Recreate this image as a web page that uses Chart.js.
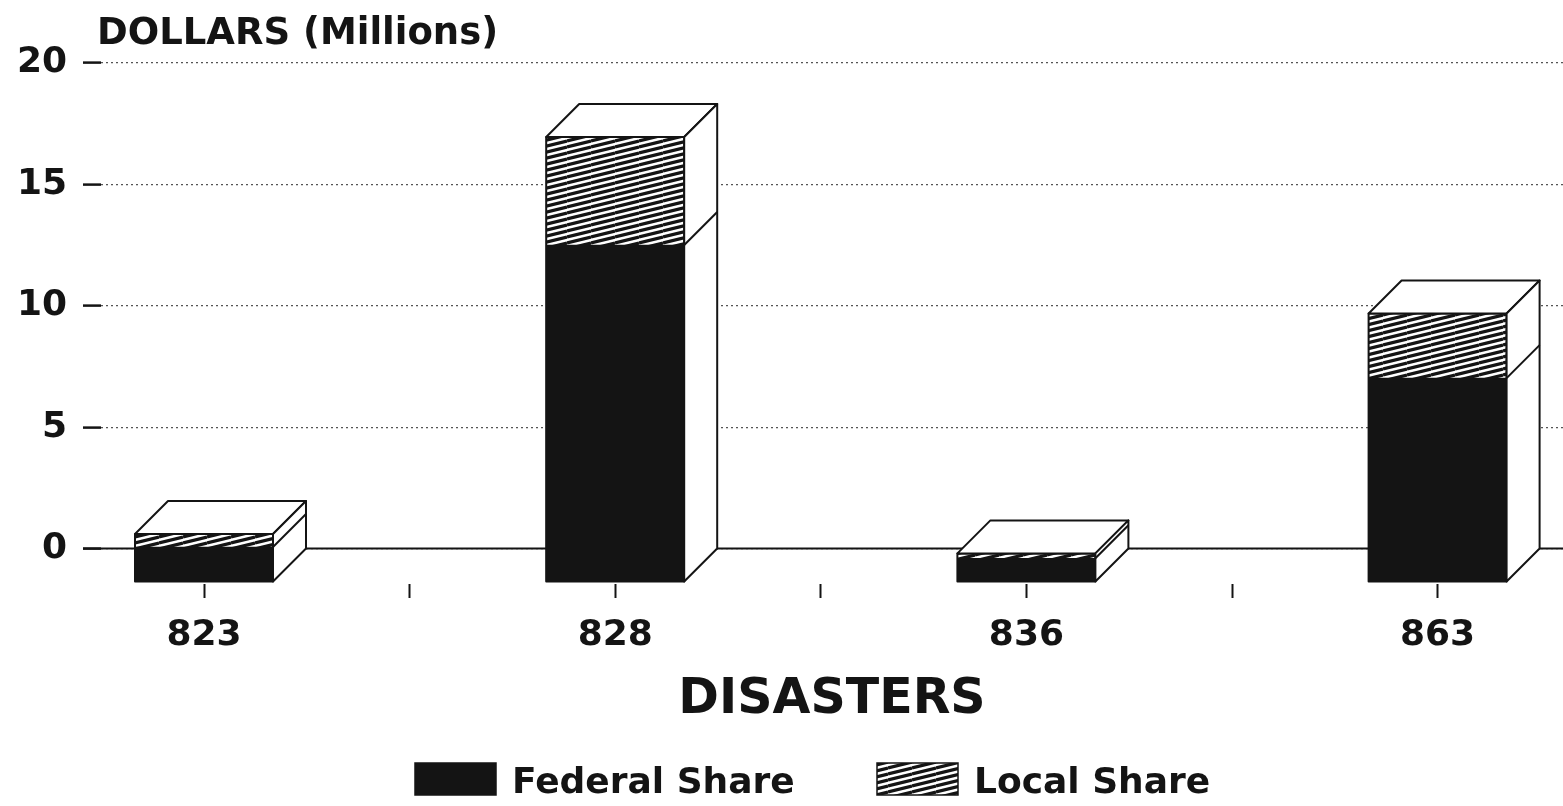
<!DOCTYPE html>
<html>
<head>
<meta charset="utf-8">
<title>Disasters - Federal and Local Share</title>
<script src="https://cdn.jsdelivr.net/npm/chart.js@4.4.1/dist/chart.umd.min.js"></script>
<style>
  html, body { margin: 0; padding: 0; background: #fff; overflow: hidden; }
</style>
</head>
<body>
<canvas id="chart" width="1563" height="806"></canvas>
<script>
// data (millions of dollars)
const categories = ['823', '828', '836', '863'];
const federalShare = [1.42, 13.86, 0.96, 8.38];
const localShare = [0.54, 4.45, 0.2, 2.66];
const yTicks = [0, 5, 10, 15, 20];
const seriesLabels = ['Federal Share', 'Local Share'];
const yTitle = 'DOLLARS (Millions)';
const xTitle = 'DISASTERS';

const FONT = "'DejaVu Sans', sans-serif";
const INK = '#141414';
const DX = 33, DY = 33;      // 3d depth of the boxes
const STEP = 411.2;          // px per category

// diagonal hatch used for the local share
function makeHatch() {
    const c = document.createElement('canvas');
    c.width = 24; c.height = 6;
    const g = c.getContext('2d');
    g.fillStyle = '#fff';
    g.fillRect(0, 0, 24, 6);
    g.strokeStyle = INK;
    g.lineWidth = 3.2;
    [-6, 0, 6].forEach(off => {
        g.beginPath();
        g.moveTo(0, 6 + off);
        g.lineTo(24, off);
        g.stroke();
    });
    return g.createPattern(c, 'repeat');
}
const hatch = makeHatch();

function poly(ctx, pts) {
    ctx.beginPath();
    ctx.moveTo(pts[0][0], pts[0][1]);
    pts.slice(1).forEach(p => ctx.lineTo(p[0], p[1]));
    ctx.closePath();
    ctx.fillStyle = '#fff';
    ctx.fill();
    ctx.stroke();
}

// draws the floor line, shifts the bar fronts and adds top/side faces
const box3d = {
    id: 'box3d',
    beforeDatasetsDraw(chart) {
        const { ctx, chartArea, scales } = chart;
        const y0 = scales.y.getPixelForValue(0);
        ctx.save();
        ctx.strokeStyle = INK;
        ctx.lineWidth = 2;
        ctx.beginPath();
        ctx.moveTo(chartArea.left - 18, y0);
        ctx.lineTo(chartArea.right, y0);
        ctx.stroke();
        ctx.translate(-DX, DY);
    },
    afterDatasetsDraw(chart) {
        const { ctx } = chart;
        ctx.restore();
        const fed = chart.getDatasetMeta(0).data;
        const loc = chart.getDatasetMeta(1).data;
        const y0 = chart.scales.y.getPixelForValue(0);
        ctx.save();
        ctx.strokeStyle = INK;
        ctx.lineWidth = 2;
        ctx.lineJoin = 'round';
        fed.forEach((f, i) => {
            const w = f.width;
            const xl = f.x - w / 2, xr = f.x + w / 2;
            const top = loc[i].y, mid = f.y;
            ctx.strokeRect(xl - DX, top + DY, w, y0 - top);
            poly(ctx, [[xl - DX, top + DY], [xr - DX, top + DY], [xr, top], [xl, top]]);
            poly(ctx, [[xr - DX, top + DY], [xr, top], [xr, y0], [xr - DX, y0 + DY]]);
            ctx.beginPath();
            ctx.moveTo(xr - DX, mid + DY);
            ctx.lineTo(xr, mid);
            ctx.stroke();
        });
        ctx.restore();
    }
};

// axis caption at top left and the legend at the bottom
const extras = {
    id: 'extras',
    afterDraw(chart) {
        const { ctx } = chart;
        ctx.save();
        ctx.fillStyle = INK;
        ctx.textBaseline = 'alphabetic';
        ctx.font = 'bold 37px ' + FONT;
        ctx.fillText(yTitle, 97, 44);

        const items = [{ x: 415 }, { x: 877 }];
        ctx.font = 'bold 36px ' + FONT;
        chart.data.datasets.forEach((ds, i) => {
            const x = items[i].x;
            ctx.fillStyle = ds.backgroundColor;
            ctx.fillRect(x, 763, 81, 32);
            ctx.strokeStyle = INK;
            ctx.lineWidth = 1.5;
            ctx.strokeRect(x, 763, 81, 32);
            ctx.fillStyle = INK;
            ctx.fillText(ds.label, x + 97, 793);
        });
        ctx.restore();
    }
};

const xMin = -(237 - 101) / STEP;
const xMax = xMin + 1462 / STEP;
const frontShift = DX / STEP;

new Chart(document.getElementById('chart'), {
    type: 'bar',
    data: {
        datasets: [
            {
                label: seriesLabels[0],
                data: federalShare.map((v, i) => ({ x: i, y: v })),
                backgroundColor: INK,
                borderWidth: 0
            },
            {
                label: seriesLabels[1],
                data: localShare.map((v, i) => ({ x: i, y: v })),
                backgroundColor: hatch,
                borderWidth: 0
            }
        ]
    },
    options: {
        responsive: false,
        animation: false,
        barThickness: 138,
        clip: false,
        layout: { padding: { left: 0, right: 0, top: 63, bottom: 0 } },
        plugins: {
            legend: { display: false },
            tooltip: { enabled: false }
        },
        scales: {
            x: {
                type: 'linear',
                display: false,
                stacked: true,
                offset: false,
                grid: { offset: false },
                min: xMin,
                max: xMax
            },
            x2: {
                type: 'linear',
                position: 'bottom',
                offset: false,
                min: xMin + frontShift,
                max: xMax + frontShift,
                afterBuildTicks: (scale) => {
                    const vals = [];
                    categories.forEach((c, i) => {
                        if (i > 0) vals.push(i - 0.5);
                        vals.push(i);
                    });
                    scale.ticks = vals.map(v => ({ value: v }));
                },
                afterFit: (scale) => { scale.height = 222; },
                grid: {
                    offset: false,
                    drawOnChartArea: false,
                    drawTicks: true,
                    tickLength: 14,
                    tickWidth: 2,
                    tickColor: INK
                },
                border: { display: false },
                ticks: {
                    autoSkip: false,
                    maxRotation: 0,
                    padding: 16,
                    color: INK,
                    font: { family: FONT, size: 36, weight: 'bold' },
                    callback: (v) => Number.isInteger(v) ? categories[v] : ''
                },
                title: {
                    display: true,
                    text: xTitle,
                    color: INK,
                    font: { family: FONT, size: 49, weight: 'bold' },
                    padding: { top: 0, bottom: 76 }
                }
            },
            y: {
                stacked: true,
                min: -1.46,
                max: 20,
                afterBuildTicks: (scale) => {
                    scale.ticks = yTicks.map(v => ({ value: v }));
                },
                afterFit: (scale) => { scale.width = 101; },
                grid: {
                    color: '#555',
                    lineWidth: 1.2,
                    drawTicks: true,
                    tickLength: 18,
                    tickWidth: 2.5,
                    tickColor: INK,
                    tickBorderDash: [100, 0]
                },
                border: { display: false, dash: [2, 3] },
                ticks: {
                    padding: 16,
                    color: INK,
                    font: { family: FONT, size: 36, weight: 'bold' }
                }
            }
        }
    },
    plugins: [box3d, extras]
});
</script>
</body>
</html>
